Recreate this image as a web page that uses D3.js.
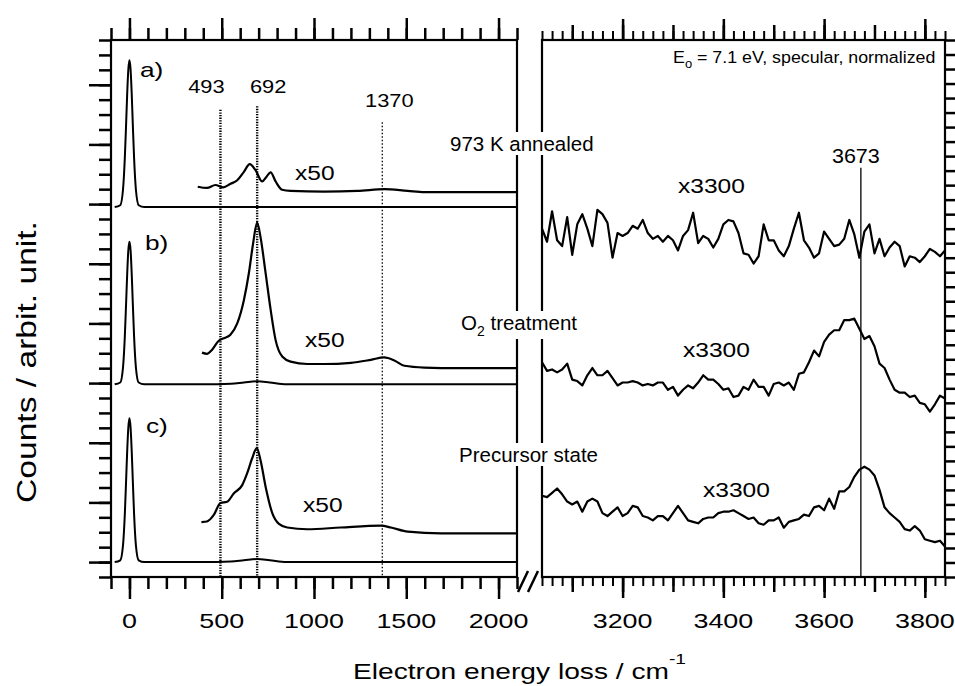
<!DOCTYPE html>
<html>
<head>
<meta charset="utf-8">
<script src="https://cdn.jsdelivr.net/npm/d3@7"></script>
<style>
body { margin: 0; background: #fff; }
text { font-family: Arial, "Liberation Sans", sans-serif; fill: #000; }
</style>
</head>
<body>
<svg id="chart" width="955" height="686"></svg>
<script>
// ---- data (counts in axis units) ----
var panelNames = ["a)", "b)", "c)"];
var sampleNames = ["973 K annealed", "O2 treatment", "Precursor state"];
var baselines = [5.95, 2.98, 0];

// elastic peak, x1 gain
var elasticX = [-80, -50, -35, -25, -18, -12, -6, 0, 6, 12, 18, 25, 35, 50, 80, 400, 550, 620, 692, 760, 850, 2100];
var elasticA = [0, 0.03, 0.29, 0.83, 1.40, 1.92, 2.31, 2.46, 2.31, 1.92, 1.40, 0.83, 0.29, 0.03, 0, 0, 0, 0, 0, 0, 0, 0];
var elasticB = [0, 0.03, 0.28, 0.81, 1.37, 1.87, 2.25, 2.39, 2.25, 1.87, 1.37, 0.81, 0.28, 0.03, 0, 0, 0.01, 0.03, 0.05, 0.03, 0, 0];
var elasticC = [0, 0.03, 0.28, 0.81, 1.38, 1.88, 2.26, 2.41, 2.26, 1.88, 1.38, 0.81, 0.28, 0.03, 0, 0, 0.01, 0.03, 0.05, 0.03, 0, 0];

// x50 gain
var x50A = [370, 420, 466, 508, 548, 584, 620, 652, 683, 719, 743, 765, 792, 827, 873, 1055, 1236, 1381, 1508, 1598, 2100];
var y50A = [0.34, 0.32, 0.37, 0.33, 0.39, 0.45, 0.59, 0.72, 0.62, 0.43, 0.51, 0.58, 0.43, 0.29, 0.27, 0.26, 0.27, 0.30, 0.27, 0.25, 0.25];
var x50B = [393, 420, 448, 484, 511, 547, 584, 620, 647, 670, 692, 710, 738, 765, 792, 829, 873, 964, 1055, 1200, 1308, 1380, 1435, 1490, 1598, 1780, 2100];
var y50B = [0.53, 0.51, 0.58, 0.73, 0.77, 0.83, 1.02, 1.41, 1.86, 2.36, 2.71, 2.47, 1.86, 1.25, 0.74, 0.46, 0.38, 0.34, 0.34, 0.36, 0.41, 0.45, 0.40, 0.31, 0.28, 0.27, 0.27];
var x50C = [390, 420, 457, 493, 529, 565, 611, 638, 665, 690, 710, 738, 774, 810, 855, 964, 1145, 1363, 1417, 1508, 1689, 2100];
var y50C = [0.67, 0.68, 0.79, 0.99, 1.01, 1.15, 1.29, 1.49, 1.74, 1.91, 1.71, 1.26, 0.82, 0.64, 0.58, 0.55, 0.58, 0.61, 0.58, 0.51, 0.48, 0.48];

var markLines = [493, 692, 1370];

// x3300 gain, OH region, sampled every 10 cm-1 from 3040 cm-1
var ohStart = 3040, ohStep = 10;
var ohA = [24.0, 23.1, 25.2, 23.2, 22.8, 24.8, 22.2, 24.3, 25.0, 24.0,
           22.8, 25.3, 25.0, 24.4, 22.0, 23.7, 23.5, 23.7, 24.2, 24.0,
           24.6, 23.7, 23.3, 23.5, 23.1, 23.5, 23.2, 22.5, 23.5, 23.9,
           25.1, 23.0, 23.5, 23.3, 22.7, 23.3, 24.3, 24.6, 24.5, 23.7,
           22.3, 22.2, 21.6, 22.1, 24.3, 23.2, 23.2, 22.5, 22.1, 22.8,
           24.0, 25.1, 23.2, 22.7, 22.0, 22.3, 23.8, 23.3, 22.8, 22.9,
           23.3, 24.6, 23.6, 22.0, 23.8, 24.3, 22.3, 23.3, 22.1, 22.7,
           23.1, 22.8, 21.4, 22.1, 22.0, 21.7, 22.1, 22.6, 22.4, 22.1,
           22.5];
var ohB = [14.8, 14.2, 14.3, 14.1, 14.3, 14.7, 13.6, 13.5, 13.2, 13.9,
           14.4, 13.9, 13.9, 14.2, 13.7, 13.2, 13.4, 13.4, 13.5, 13.4,
           13.2, 13.3, 13.2, 13.4, 13.4, 12.9, 13.1, 12.5, 12.9, 13.2,
           13.0, 13.4, 13.9, 13.6, 13.6, 13.3, 12.9, 13.0, 12.4, 12.5,
           13.1, 12.9, 13.6, 13.1, 13.1, 12.5, 13.3, 13.4, 13.2, 13.4,
           12.9, 14.0, 14.1, 14.8, 15.6, 15.2, 16.2, 16.7, 17.0, 17.0,
           17.7, 17.7, 17.8, 17.1, 16.4, 16.6, 15.9, 14.7, 14.4, 13.6,
           12.9, 12.7, 12.7, 12.4, 12.5, 12.0, 11.9, 11.4, 11.9, 12.5,
           12.3];
var ohC = [5.6, 5.5, 5.8, 6.1, 5.7, 5.2, 5.0, 5.2, 4.5, 5.2,
           5.4, 5.2, 4.4, 4.2, 4.5, 4.8, 4.2, 4.4, 4.9, 4.8,
           4.2, 4.1, 3.9, 4.2, 4.2, 3.9, 4.4, 4.9, 4.4, 3.9,
           3.8, 3.7, 4.0, 4.1, 4.1, 4.4, 4.5, 4.5, 4.6, 4.4,
           4.2, 4.0, 4.1, 3.7, 3.6, 3.9, 3.9, 4.1, 3.4, 3.8,
           3.9, 4.0, 4.3, 4.2, 4.8, 4.9, 4.6, 5.4, 4.7, 5.9,
           5.9, 6.2, 6.9, 7.4, 7.6, 7.4, 7.0, 6.0, 4.8, 4.4,
           4.1, 3.8, 3.3, 3.2, 3.5, 3.2, 2.6, 2.5, 2.4, 2.5,
           2.1];
var ohLine = 3673;

var leftTicks = [0, 500, 1000, 1500, 2000];
var rightTicks = [3200, 3400, 3600, 3800];

// ---- scales ----
var svg = d3.select("#chart");
var xL = d3.scaleLinear().domain([-100, 2100]).range([111, 517]);
var xR = d3.scaleLinear().domain([3040, 3840]).range([542, 945]);
var y = d3.scaleLinear().domain([-0.25, 8.75]).range([577, 40]);
var yR = d3.scaleLinear().domain([0, 37]).range([577, 40]);
var plotTop = 40, plotBottom = 577;

function zip(xs, ys, base) {
    return xs.map(function(x, i) { return [x, ys[i] + (base || 0)]; });
}

function tickSet(axis, pos, values, size, width) {
    svg.append("g")
        .attr("transform", pos)
        .call(axis.tickValues(values).tickSize(size).tickSizeOuter(0).tickFormat(""))
        .call(function(g) { g.select(".domain").remove(); })
        .call(function(g) { g.selectAll("line").attr("stroke", "#000").attr("stroke-width", width); });
}

function label(x, yy, str, size, sx, anchor) {
    return svg.append("text")
        .attr("transform", "translate(" + x + "," + yy + ") scale(" + sx + ",1)")
        .attr("font-size", size)
        .attr("text-anchor", anchor || "start")
        .text(str);
}

// ---- ticks ----
var minorL = d3.range(-100, 2101, 100);
tickSet(d3.axisBottom(xL), "translate(0," + plotBottom + ")", minorL, 12, 2.5);
tickSet(d3.axisBottom(xL), "translate(0," + plotBottom + ")", leftTicks, 22, 2.5);
tickSet(d3.axisTop(xL), "translate(0," + plotTop + ")", minorL, 12, 2.5);
tickSet(d3.axisTop(xL), "translate(0," + plotTop + ")", leftTicks, 22, 2.5);
tickSet(d3.axisLeft(y), "translate(111,0)", d3.range(-0.25, 8.76, 0.25), 12, 2.5);
tickSet(d3.axisLeft(y), "translate(111,0)", d3.range(0, 9, 1), 22, 2.5);

var minorR = d3.range(3040, 3841, 20);
var midR = d3.range(3100, 3841, 100);
tickSet(d3.axisBottom(xR), "translate(0," + plotBottom + ")", minorR, 9, 2);
tickSet(d3.axisBottom(xR), "translate(0," + plotBottom + ")", midR, 15, 2.5);
tickSet(d3.axisBottom(xR), "translate(0," + plotBottom + ")", rightTicks, 21, 2.5);
tickSet(d3.axisTop(xR), "translate(0," + plotTop + ")", minorR, 9, 2);
tickSet(d3.axisTop(xR), "translate(0," + plotTop + ")", midR, 15, 2.5);
tickSet(d3.axisTop(xR), "translate(0," + plotTop + ")", rightTicks, 21, 2.5);
tickSet(d3.axisRight(yR), "translate(945,0)", d3.range(0, 38, 1), 10, 2.5);

// ---- frames ----
[[111, 517], [542, 945]].forEach(function(p) {
    svg.append("rect")
        .attr("x", p[0]).attr("y", plotTop)
        .attr("width", p[1] - p[0]).attr("height", plotBottom - plotTop)
        .attr("fill", "none").attr("stroke", "#000").attr("stroke-width", 2.2);
});

// axis break marks
[0, 10].forEach(function(dx) {
    svg.append("line")
        .attr("x1", 518 + dx).attr("y1", 592)
        .attr("x2", 528 + dx).attr("y2", 571)
        .attr("stroke", "#000").attr("stroke-width", 2.5);
});

// ---- marker lines ----
var markTop = [7.58, 7.64, 7.37];
markLines.forEach(function(v, i) {
    svg.append("line")
        .attr("x1", xL(v)).attr("x2", xL(v))
        .attr("y1", y(markTop[i])).attr("y2", plotBottom)
        .attr("stroke", "#000")
        .attr("stroke-width", i < 2 ? 2.4 : 1.3)
        .attr("stroke-dasharray", i < 2 ? "1.3,1.3" : "1.5,2");
});
var markDx = [-14, 11, 7];
markLines.forEach(function(v, i) {
    label(xL(v) + markDx[i], i < 2 ? 93 : 107, String(v), 17.5, 1.25, "middle");
});

svg.append("line")
    .attr("x1", xR(ohLine)).attr("x2", xR(ohLine))
    .attr("y1", yR(28.2)).attr("y2", plotBottom)
    .attr("stroke", "#000").attr("stroke-width", 1.3);
label(xR(ohLine) - 5, 163, String(ohLine), 20.5, 1.05, "middle");

// ---- spectra ----
var lineL = d3.line().x(function(d) { return xL(d[0]); }).y(function(d) { return y(d[1]); });
var lineR = d3.line().x(function(d) { return xR(d[0]); }).y(function(d) { return yR(d[1]); });

var elastic = [elasticA, elasticB, elasticC];
var gain50 = [[x50A, y50A], [x50B, y50B], [x50C, y50C]];
var oh = [ohA, ohB, ohC];

elastic.forEach(function(vals, i) {
    svg.append("path")
        .datum(zip(elasticX, vals, baselines[i]))
        .attr("d", lineL.curve(d3.curveMonotoneX))
        .attr("fill", "none").attr("stroke", "#000").attr("stroke-width", 2);
});
gain50.forEach(function(s, i) {
    svg.append("path")
        .datum(zip(s[0], s[1], baselines[i]))
        .attr("d", lineL.curve(d3.curveMonotoneX))
        .attr("fill", "none").attr("stroke", "#000").attr("stroke-width", 2.2);
});
oh.forEach(function(vals) {
    var pts = vals.map(function(v, k) { return [ohStart + k * ohStep, v]; });
    svg.append("path")
        .datum(pts)
        .attr("d", lineR)
        .attr("fill", "none").attr("stroke", "#000").attr("stroke-width", 2.2)
        .attr("stroke-linejoin", "round");
});

// ---- annotations ----
var panelPos = [[140, 77], [145, 250], [146, 433]];
panelNames.forEach(function(t, i) { label(panelPos[i][0], panelPos[i][1], t, 21, 1.25); });

var x50Pos = [[295, 180], [305, 347], [303, 512]];
x50Pos.forEach(function(p) { label(p[0], p[1], "x50", 21, 1.17); });
var x3300Pos = [[678, 193], [683, 357], [703, 497]];
x3300Pos.forEach(function(p) { label(p[0], p[1], "x3300", 21, 1.17); });

// sample names sit on a white box that hides the panel frames behind them
var samplePos = [[450, 151], [461, 330], [459, 462]];
sampleNames.forEach(function(t, i) {
    var tx = svg.append("text")
        .attr("x", samplePos[i][0]).attr("y", samplePos[i][1])
        .attr("font-size", 20.5);
    if (t.indexOf("O2") === 0) {
        tx.append("tspan").text("O");
        tx.append("tspan").attr("font-size", 14).attr("dy", 6).text("2");
        tx.append("tspan").attr("dy", -6).text(" treatment");
    } else {
        tx.text(t);
    }
    var bb = tx.node().getBBox();
    svg.insert("rect", function() { return tx.node(); })
        .attr("x", bb.x - 2).attr("y", bb.y)
        .attr("width", bb.width + 4).attr("height", bb.height)
        .attr("fill", "#fff");
});

var info = svg.append("text")
    .attr("transform", "translate(673,63) scale(1.08,1)")
    .attr("font-size", 16.5);
info.append("tspan").text("E");
info.append("tspan").attr("font-size", 12).attr("dy", 5).text("o");
info.append("tspan").attr("dy", -5).text(" = 7.1 eV, specular, normalized");

// tick labels
leftTicks.forEach(function(v) { label(xL(v), 628, String(v), 21, 1.28, "middle"); });
rightTicks.forEach(function(v) { label(xR(v), 628, String(v), 21, 1.28, "middle"); });

// axis titles
var xt = svg.append("text")
    .attr("transform", "translate(353,679) scale(1.28,1)")
    .attr("font-size", 22);
xt.append("tspan").text("Electron energy loss / cm");
xt.append("tspan").attr("font-size", 15).attr("dy", -15).text("-1");

svg.append("text")
    .attr("transform", "translate(36,362) scale(1.15,1.4) rotate(-90)")
    .attr("font-size", 24)
    .attr("text-anchor", "middle")
    .text("Counts / arbit. unit.");
</script>
</body>
</html>
